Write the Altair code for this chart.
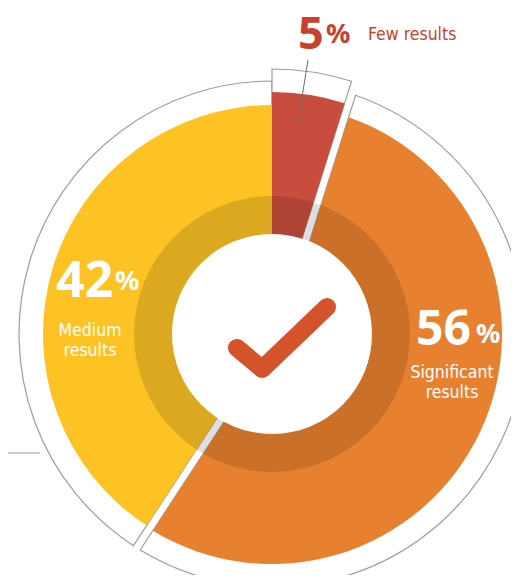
import math
import altair as alt
import pandas as pd

# ---- data ----
categories = ["Few results", "Significant results", "Medium results"]
values = [5, 56, 42]
order = [0, 1, 2]
pct_sign = "%"

df = pd.DataFrame({"category": categories, "value": values, "order": order})

# ---- styling ----
CX, CY = 264, 326
LABEL_FONT = "Liberation Sans Narrow, DejaVu Sans Condensed, Roboto Condensed, DejaVu Sans"
NUM_FONT = "Noto Sans, Open Sans, DejaVu Sans"
RED, ORANGE, YELLOW = "#C84D3E", "#E8812F", "#FDC224"
OUTLINE = "#A39C98"
LABEL_SIZE = 17.5

base = (
    alt.Chart(df)
    .transform_window(cum="sum(value)", sort=[alt.SortField("order")], frame=[None, 0])
    .transform_joinaggregate(total="sum(value)")
    .transform_calculate(
        a0="2*PI*(datum.cum - datum.value)/datum.total",
        a1="2*PI*datum.cum/datum.total",
    )
)

center = dict(x=alt.value(CX), y=alt.value(CY))
arc_enc = dict(theta=alt.Theta("a0:Q", scale=None), theta2=alt.Theta2("a1:Q"), **center)


def pick(cat):
    return base.transform_filter(alt.datum.category == cat)


def outline(cat, r, pad):
    return pick(cat).mark_arc(
        innerRadius=40, outerRadius=r, padAngle=pad, fill="white",
        stroke=OUTLINE, strokeWidth=1.2,
    ).encode(**arc_enc)


def fill(cat, r, pad, color):
    return pick(cat).mark_arc(
        innerRadius=40, outerRadius=r, padAngle=pad, fill=color, strokeWidth=0
    ).encode(**arc_enc)


one = base.transform_aggregate(total="sum(value)")

dark_ring = one.mark_arc(
    innerRadius=100, outerRadius=138, theta=0, theta2=2 * math.pi,
    fill="black", opacity=0.13,
).encode(**center)

hole = one.mark_arc(
    innerRadius=0, outerRadius=100, theta=0, theta2=2 * math.pi, fill="white"
).encode(**center)

check = one.mark_point(
    shape="M -1 0.22 L -0.44 0.69 L 1 -0.69",
    size=8100, filled=False, stroke="#D4532A", strokeWidth=18,
    strokeCap="round", strokeJoin="round", opacity=1,
).encode(x=alt.value(CX + 10), y=alt.value(CY + 4))

connector = one.mark_rule(color="#6E6E6E", strokeWidth=1).encode(
    x=alt.value(300), x2=alt.value(290), y=alt.value(52), y2=alt.value(114)
)
left_line = one.mark_rule(color="#A89490", strokeWidth=1).encode(
    x=alt.value(0), x2=alt.value(32), y=alt.value(445), y2=alt.value(445)
)


def number(cat, x, y, size, color):
    return pick(cat).mark_text(
        align="left", baseline="alphabetic", font=NUM_FONT, fontSize=size,
        fontWeight="bold", color=color,
    ).encode(x=alt.value(x), y=alt.value(y), text="value:Q")


def pct(cat, x, y, size, color):
    return pick(cat).mark_text(
        align="left", baseline="alphabetic", font=NUM_FONT, fontSize=size,
        fontWeight="bold", color=color, text=pct_sign,
    ).encode(x=alt.value(x), y=alt.value(y))


def label(cat, x, y, color, align="center", split=True):
    kw = dict(lineBreak=" ", lineHeight=20) if split else {}
    return pick(cat).mark_text(
        align=align, baseline="alphabetic", font=LABEL_FONT, fontSize=LABEL_SIZE,
        color=color, **kw,
    ).encode(x=alt.value(x), y=alt.value(y), text="category:N")


layers = [
    outline("Medium results", 253, 0),
    outline("Few results", 265, 0),
    outline("Significant results", 253, 0.0625),
    fill("Medium results", 229, 0, YELLOW),
    fill("Few results", 242, 0, RED),
    fill("Significant results", 230, 0.0685, ORANGE),
    dark_ring,
    hole,
    check,
    connector,
    left_line,
    number("Few results", 290, 41, 45, "#C8412E"),
    pct("Few results", 318, 35, 27, "#C8412E"),
    label("Few results", 360, 32, "#C8412E", align="left", split=False),
    number("Medium results", 48, 289, 50, "white"),
    pct("Medium results", 107, 282, 27, "white"),
    label("Medium results", 82, 328, "white"),
    number("Significant results", 408, 337, 48, "white"),
    pct("Significant results", 468, 335, 27, "white"),
    label("Significant results", 444, 370, "white"),
]

chart = (
    alt.layer(*layers)
    .properties(width=503, height=567, padding=0, autosize=alt.AutoSizeParams(type="none"))
    .configure_view(strokeWidth=0)
)

chart.save("out.html", embed_options={"renderer": "svg", "actions": False})
